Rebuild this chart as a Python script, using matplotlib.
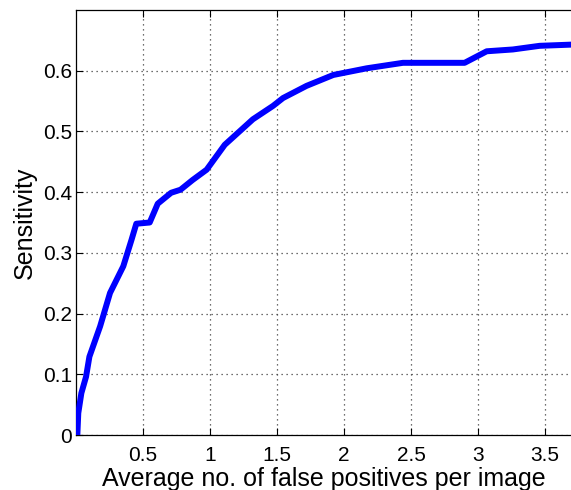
import numpy as np
import matplotlib
matplotlib.use('Agg')
from matplotlib import pyplot as plt

# FROC curve
fp_per_image = [0.01, 0.017, 0.04, 0.075, 0.10, 0.18, 0.254, 0.353, 0.415, 0.45,
                0.55, 0.61, 0.71, 0.78, 0.87, 0.975, 1.11, 1.32, 1.47, 1.545,
                1.72, 1.92, 2.17, 2.44, 2.90, 3.065, 3.26, 3.46, 3.70]
sensitivity = [0.0, 0.036, 0.069, 0.096, 0.129, 0.179, 0.234, 0.278, 0.322, 0.348,
               0.350, 0.381, 0.399, 0.404, 0.42, 0.437, 0.478, 0.52, 0.542, 0.555,
               0.575, 0.593, 0.604, 0.613, 0.613, 0.632, 0.635, 0.641, 0.643]
x_ticks = [0.5, 1, 1.5, 2, 2.5, 3, 3.5]
x_tick_labels = ['0.5', '1', '1.5', '2', '2.5', '3', '3.5']
y_ticks = [0, 0.1, 0.2, 0.3, 0.4, 0.5, 0.6]
y_tick_labels = ['0', '0.1', '0.2', '0.3', '0.4', '0.5', '0.6']

plt.rcParams['font.family'] = ['Liberation Sans', 'DejaVu Sans']

fig = plt.figure(figsize=(5.71, 4.90), dpi=100)
ax = fig.add_axes([0.1331, 0.1122, 0.8669, 0.8674])

ax.plot(fp_per_image, sensitivity, color='#0000ff', linewidth=4.3,
        solid_joinstyle='round', solid_capstyle='butt', zorder=3)

ax.set_xlim(0, 3.694)
ax.set_ylim(0, 0.70)
ax.set_xticks(x_ticks)
ax.set_xticklabels(x_tick_labels)
ax.set_yticks(y_ticks)
ax.set_yticklabels(y_tick_labels)

ax.grid(True, color='0.25', linestyle=(0, (1, 3)), linewidth=0.9)
ax.tick_params(direction='in', length=5, width=0.8, labelsize=15,
               top=True, right=False)
ax.tick_params(axis='x', pad=8)
ax.tick_params(axis='y', pad=3)
ax.spines['right'].set_visible(False)
for s in ['left', 'top', 'bottom']:
    ax.spines[s].set_linewidth(0.9)

ax.set_xlabel('Average no. of false positives per image', fontsize=18, labelpad=1)
ax.set_ylabel('Sensitivity', fontsize=18, labelpad=4)

plt.savefig('out.png', dpi=100)
